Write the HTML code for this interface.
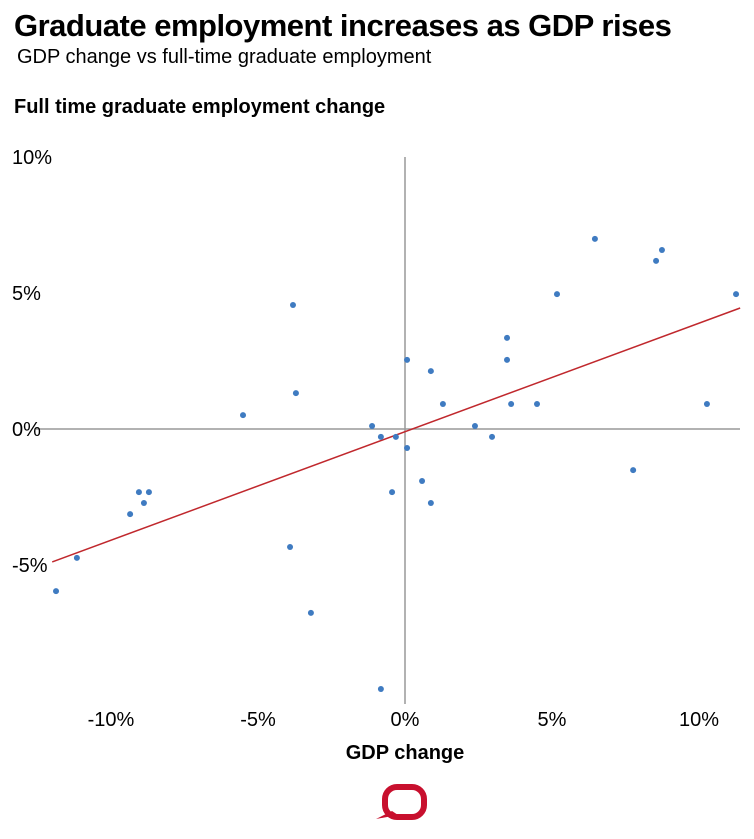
<!DOCTYPE html>
<html><head><meta charset="utf-8"><style>
body{margin:0;background:#fff;font-family:"Liberation Sans",Arial,sans-serif;}
svg{display:block}
</style></head><body>
<svg width="754" height="839" id="c">
<text x="14" y="36" font-size="31" font-weight="bold" fill="#000" letter-spacing="-0.5">Graduate employment increases as GDP rises</text>
<text x="17" y="63" font-size="20" fill="#000">GDP change vs full-time graduate employment</text>
<text x="14" y="113" font-size="20" font-weight="bold" fill="#000">Full time graduate employment change</text>
<text x="405" y="759" font-size="20" font-weight="bold" fill="#000" text-anchor="middle">GDP change</text>
<g id="axes"></g>
<g id="marks"></g>
<g>
<rect x="385" y="787" width="39" height="30" rx="12" fill="none" stroke="#c8102e" stroke-width="6"/>
<path d="M392 811 L376 819 L398 815Z" fill="#c8102e"/>
</g>
</svg>
<script>
const gdp=[11.26,10.27,8.74,8.54,6.46,7.76,5.17,4.49,3.61,3.47,3.47,2.96,2.38,1.29,0.88,0.88,0.58,0.07,0.07,-0.31,-0.44,-0.82,-1.12,-0.82,-3.20,-3.91,-3.71,-3.81,-5.51,-8.71,-9.05,-8.88,-9.35,-11.16,-11.87];
const emp=[4.96,0.92,6.58,6.18,6.99,-1.51,4.96,0.92,0.92,3.35,2.54,-0.29,0.11,0.92,2.13,-2.72,-1.91,2.54,-0.70,-0.29,-2.32,-0.29,0.11,-9.56,-6.76,-4.34,1.32,4.56,0.51,-2.32,-2.32,-2.72,-3.13,-4.74,-5.96];
const xTicks=[-10,-5,0,5,10];
const yTicks=[10,5,0,-5];
const trendX=[-12,11.4];
const trendSlope=0.399, trendIntercept=-0.1;
const X=v=>405+v*29.4, Y=v=>429-v*27.2;
const NS="http://www.w3.org/2000/svg";
const axes=document.getElementById('axes'), marks=document.getElementById('marks');
function mk(tag,attrs,parent,txt){const e=document.createElementNS(NS,tag);for(const k in attrs)e.setAttribute(k,attrs[k]);if(txt!==undefined)e.textContent=txt;parent.appendChild(e);return e;}
let l=mk('line',{x1:36,x2:740,y1:Y(0),y2:Y(0),stroke:'#999','stroke-width':1.5},axes);


l=mk('line',{x1:X(0),x2:X(0),y1:Y(10),y2:704,stroke:'#999','stroke-width':1.5},axes);


xTicks.forEach(t=>{const e=mk('text',{x:X(t),y:726,'font-size':20,'text-anchor':'middle',fill:'#000'},axes,t+'%');

});
yTicks.forEach(t=>{const e=mk('text',{x:12,y:Y(t)+7,'font-size':20,fill:'#000'},axes,t+'%');

});
const tl=mk('line',{x1:X(trendX[0]),y1:Y(trendX[0]*trendSlope+trendIntercept),x2:X(trendX[1]),y2:Y(trendX[1]*trendSlope+trendIntercept),stroke:'#c0282d','stroke-width':1.5},marks);


gdp.forEach((g,i)=>{const c=mk('circle',{cx:X(g),cy:Y(emp[i]),r:3,fill:'#3f7bc1'},marks);

});
</script>
</body></html>
